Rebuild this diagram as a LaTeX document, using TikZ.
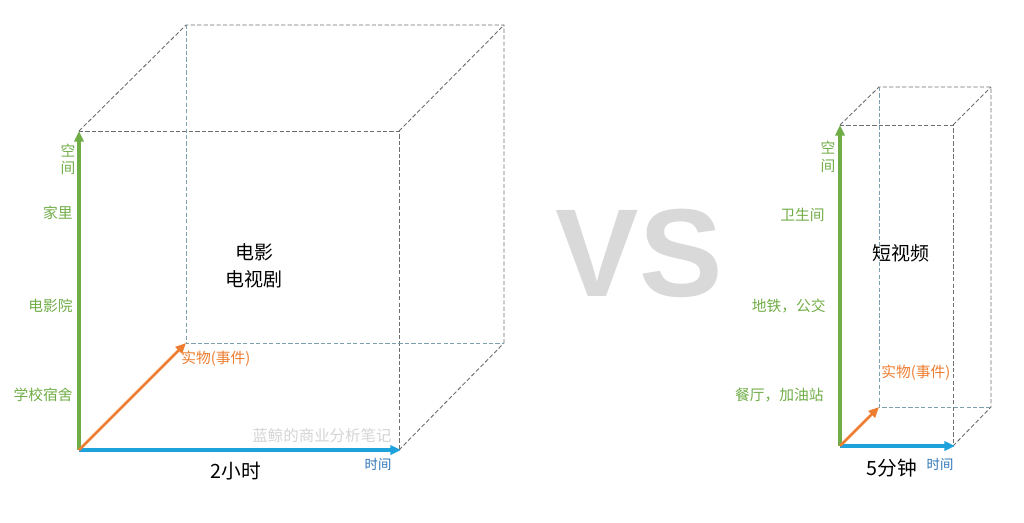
\documentclass[tikz,border=0pt]{standalone}
\usepackage{fontspec}
\usepackage{xcolor}
\usetikzlibrary{arrows.meta}
\newfontfamily\cjk{Noto Sans CJK SC}
\newfontfamily\vsfont{Liberation Sans}
\definecolor{spa}{RGB}{112, 173, 71}
\definecolor{tim}{RGB}{30, 162, 220}
\definecolor{timtxt}{RGB}{46, 117, 182}
\definecolor{obj}{RGB}{237, 125, 49}
\definecolor{edg}{RGB}{110, 110, 110}
\definecolor{hid}{RGB}{125, 160, 172}
\definecolor{wm}{RGB}{212, 212, 212}
\definecolor{vsc}{RGB}{217, 217, 217}
\tikzset{
  edge/.style={color=edg, line width=0.65pt, dash pattern=on 3pt off 1.6pt},
  hidden/.style={color=hid, line width=0.65pt, dash pattern=on 3pt off 1.6pt},
  axis/.style={line width=2.4pt, -{Triangle[length=7.5pt, width=6.5pt]}},
  lbl/.style={inner sep=0pt, font=\cjk\fontsize{10.5}{12}\selectfont},
  big/.style={inner sep=0pt, align=center, font=\cjk\fontsize{13.5}{19}\selectfont},
}

\begin{document}
\begin{tikzpicture}[x=0.025cm, y=-0.025cm]
      \useasboundingbox (0, 0) rectangle (1024, 522);
      % film cube
      \coordinate (o) at (79, 450);
      \coordinate (ft) at (79, 131);
      \coordinate (ftr) at (399, 131);
      \coordinate (fr) at (399, 450);
      \coordinate (b) at (186, 343);
      \coordinate (bt) at (186, 25);
      \coordinate (btr) at (504, 25);
      \coordinate (br) at (504, 343);
      \draw[edge] (ft)--(ftr)--(fr);
      \draw[edge] (ft)--(bt)--(btr)--(br);
      \draw[edge] (ftr)--(btr);
      \draw[edge] (fr)--(br);
      \draw[hidden] (bt)--(b)--(br);
      \draw[axis, color=spa] (o)--(ft);
      \draw[axis, color=tim] (o)--(401, 450) coordinate (tend);
      \draw[axis, color=obj, line width=1.9pt] (o)--(b);
      \node[lbl](s1) at (68, 151) {\color{spa}空};
      \node[lbl](s2) at (68, 168) {\color{spa}间};
      \node[lbl, anchor=east](s3) at (73, 213) {\color{spa}家里};
      \node[lbl, anchor=east](s4) at (73, 306) {\color{spa}电影院};
      \node[lbl, anchor=east](s5) at (73, 395) {\color{spa}学校宿舍};
      \node[lbl, anchor=west](ob) at (181, 359) {\color{obj}实物(事件)};
      \node[big](film) at (254, 266) {电影\\电视剧};
      \node[big, font=\cjk\fontsize{14}{17}\selectfont](dur) at (236, 471) {2小时};
      \node[lbl, font=\cjk\fontsize{9.5}{11}\selectfont](t1) at (378, 464) {\color{timtxt}时间};
      \node[lbl, font=\cjk\fontsize{11}{13}\selectfont](wm) at (322, 436) {\color{wm}蓝鲸的商业分析笔记};
      % vs
      \node[inner sep=0pt, font=\vsfont\bfseries\fontsize{89}{90}\selectfont](vs) at (639, 253) {\color{vsc}VS};
      % short video box
      \coordinate (o2) at (840, 446);
      \coordinate (ft2) at (840, 125);
      \coordinate (ftr2) at (953, 125);
      \coordinate (fr2) at (953, 446);
      \coordinate (b2) at (879, 407);
      \coordinate (bt2) at (879, 87);
      \coordinate (btr2) at (991, 87);
      \coordinate (br2) at (991, 407);
      \draw[edge] (ft2)--(ftr2)--(fr2);
      \draw[edge] (ft2)--(bt2)--(btr2)--(br2);
      \draw[edge] (ftr2)--(btr2);
      \draw[edge] (fr2)--(br2);
      \draw[hidden] (bt2)--(b2)--(br2);
      \draw[axis, color=spa] (o2)--(ft2);
      \draw[axis, color=tim] (o2)--(955, 446) coordinate (tend2);
      \draw[axis, color=obj, line width=1.9pt] (o2)--(b2);
      \node[lbl](r1) at (828, 148) {\color{spa}空};
      \node[lbl](r2) at (828, 166) {\color{spa}间};
      \node[lbl, anchor=east](r3) at (825, 215) {\color{spa}卫生间};
      \node[lbl, anchor=east](r4) at (826, 306) {\color{spa}地铁，公交};
      \node[lbl, anchor=east](r5) at (824, 395) {\color{spa}餐厅，加油站};
      \node[lbl, anchor=west](ob2) at (881, 373) {\color{obj}实物(事件)};
      \node[big](clip) at (901, 253) {短视频};
      \node[big, font=\cjk\fontsize{14}{17}\selectfont](dur2) at (892, 468) {5分钟};
      \node[lbl, font=\cjk\fontsize{9.5}{11}\selectfont](t2) at (940, 464) {\color{timtxt}时间};
\end{tikzpicture}
\end{document}
